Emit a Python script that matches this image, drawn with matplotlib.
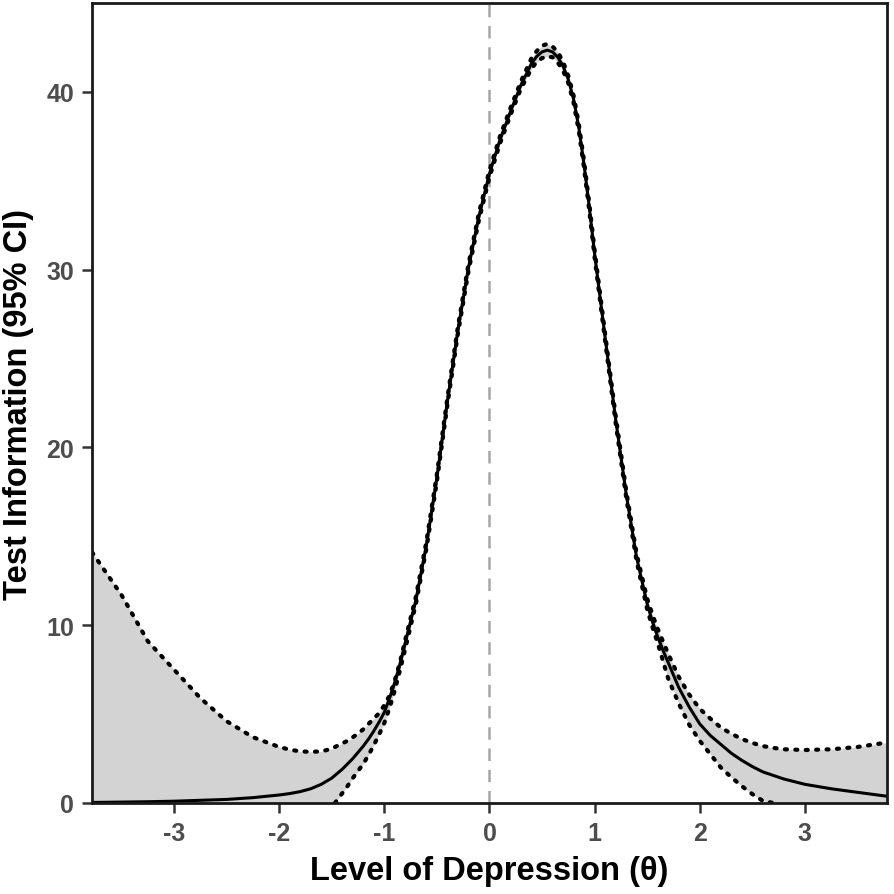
import matplotlib
matplotlib.use("Agg")
import matplotlib.pyplot as plt
import numpy as np

# theta grid and test information (estimate, 95% CI bounds)
theta = [-3.78, -3.5, -3.25, -3.0, -2.75, -2.5, -2.25, -2.0, -1.9, -1.8,
         -1.7, -1.6, -1.5, -1.47, -1.4, -1.35, -1.3, -1.25, -1.2, -1.15,
         -1.1, -1.05, -1.0, -0.95, -0.9, -0.85, -0.8, -0.7, -0.6, -0.5,
         -0.4, -0.3, -0.2, -0.1, 0.0, 0.1, 0.2, 0.3, 0.4, 0.45,
         0.5, 0.55, 0.6, 0.65, 0.7, 0.75, 0.8, 0.85, 0.9, 0.95,
         1.0, 1.1, 1.2, 1.3, 1.4, 1.5, 1.55, 1.6, 1.65, 1.7,
         1.75, 1.8, 1.9, 2.0, 2.1, 2.2, 2.3, 2.4, 2.5, 2.6,
         2.7, 2.8, 3.0, 3.25, 3.5, 3.78]

info_est = [0.03, 0.05, 0.07, 0.1, 0.15, 0.2, 0.3, 0.45, 0.53, 0.64,
            0.8, 1.05, 1.4, 1.55, 1.9, 2.2, 2.5, 2.85, 3.2, 3.6,
            4.05, 4.55, 5.1, 5.9, 6.8, 7.85, 9.05, 11.4, 14.5, 18.3,
            22.6, 26.6, 30.1, 33.0, 35.4, 37.3, 38.9, 40.4, 41.6, 42.0,
            42.25, 42.35, 42.25, 41.95, 41.45, 40.7, 39.6, 38.0, 35.9, 33.5,
            30.9, 26.2, 21.6, 17.4, 13.8, 11.2, 10.2, 9.35, 8.6, 7.9,
            7.2, 6.5, 5.4, 4.45, 3.8, 3.3, 2.8, 2.4, 2.05, 1.75,
            1.55, 1.35, 1.05, 0.8, 0.6, 0.38]

info_upper = [14.1, 11.7, 9.1, 7.5, 5.9, 4.6, 3.7, 3.15, 3.0, 2.9,
              2.88, 2.9, 3.05, 3.15, 3.35, 3.5, 3.7, 3.9, 4.15, 4.45,
              4.75, 5.05, 5.5, 6.05, 6.9, 7.95, 9.2, 11.6, 14.7, 18.5,
              22.8, 26.8, 30.3, 33.2, 35.6, 37.5, 39.1, 40.6, 41.9, 42.3,
              42.6, 42.7, 42.55, 42.25, 41.7, 40.9, 39.8, 38.2, 36.1, 33.7,
              31.1, 26.4, 21.8, 17.6, 14.0, 11.5, 10.6, 9.8, 9.1, 8.4,
              7.75, 7.1, 6.1, 5.3, 4.75, 4.25, 3.9, 3.6, 3.38, 3.2,
              3.1, 3.02, 2.98, 3.02, 3.15, 3.4]

info_lower = [0.0, 0.0, 0.0, 0.0, 0.0, 0.0, 0.0, 0.0, 0.0, 0.0,
              0.0, 0.0, 0.0, 0.0, 0.55, 0.95, 1.4, 1.8, 2.2, 2.7,
              3.25, 3.85, 4.5, 5.35, 6.35, 7.5, 8.7, 11.2, 14.3, 18.1,
              22.4, 26.4, 29.9, 32.8, 35.2, 37.1, 38.7, 40.2, 41.3, 41.7,
              41.9, 42.0, 41.95, 41.65, 41.2, 40.5, 39.4, 37.8, 35.7, 33.3,
              30.7, 26.0, 21.4, 17.2, 13.6, 10.9, 9.9, 9.0, 8.0, 7.0,
              6.3, 5.6, 4.4, 3.5, 2.75, 2.0, 1.45, 0.95, 0.5, 0.12,
              0.0, 0.0, 0.0, 0.0, 0.0, 0.0]

x_ticks = [-3, -2, -1, 0, 1, 2, 3]
y_ticks = [0, 10, 20, 30, 40]

plt.rcParams['font.family'] = ['Liberation Sans', 'DejaVu Sans']
plt.rcParams['axes.unicode_minus'] = False

th = np.array(theta)
est = np.array(info_est)
up = np.array(info_upper)
lo = np.array(info_lower)

fig = plt.figure(figsize=(8.94, 8.95), dpi=100)
ax = fig.add_axes([0.103, 0.1017, 0.889, 0.8938])

ax.fill_between(th, lo, up, color='#d3d3d3', linewidth=0, zorder=1)
ax.axvline(0, color='#a6a6a6', linestyle=(0, (5, 3.5)), linewidth=1.8, zorder=1.5)

# hide the lower bound where it sits on the x axis
pos = lo > 0
keep = pos | np.roll(pos, 1) | np.roll(pos, -1)
lo_line = np.where(keep, lo, np.nan)

dots = dict(color='black', linewidth=3.0, linestyle=(0, (0.5, 2.0)),
            dash_capstyle='round', zorder=3)
ax.plot(th, up, **dots)
ax.plot(th, lo_line, **dots)
ax.plot(th, est, color='black', linewidth=2.2, zorder=4)

ax.set_xlim(-3.78, 3.78)
ax.set_ylim(0, 45)
ax.set_xticks(x_ticks)
ax.set_yticks(y_ticks)

for s in ax.spines.values():
    s.set_linewidth(2.0)
    s.set_color('#1a1a1a')
    s.set_zorder(5)

ax.tick_params(axis='both', length=7, width=1.8, color='#333333',
               labelsize=18, labelcolor='#4d4d4d', pad=6)
for lab in ax.get_xticklabels() + ax.get_yticklabels():
    lab.set_fontweight('bold')

ax.set_xlabel('Level of Depression (θ)', fontsize=23.5, fontweight='bold', labelpad=7)
ax.set_ylabel('Test Information (95% CI)', fontsize=23.5, fontweight='bold', labelpad=9)

fig.savefig('out.png', dpi=100)
